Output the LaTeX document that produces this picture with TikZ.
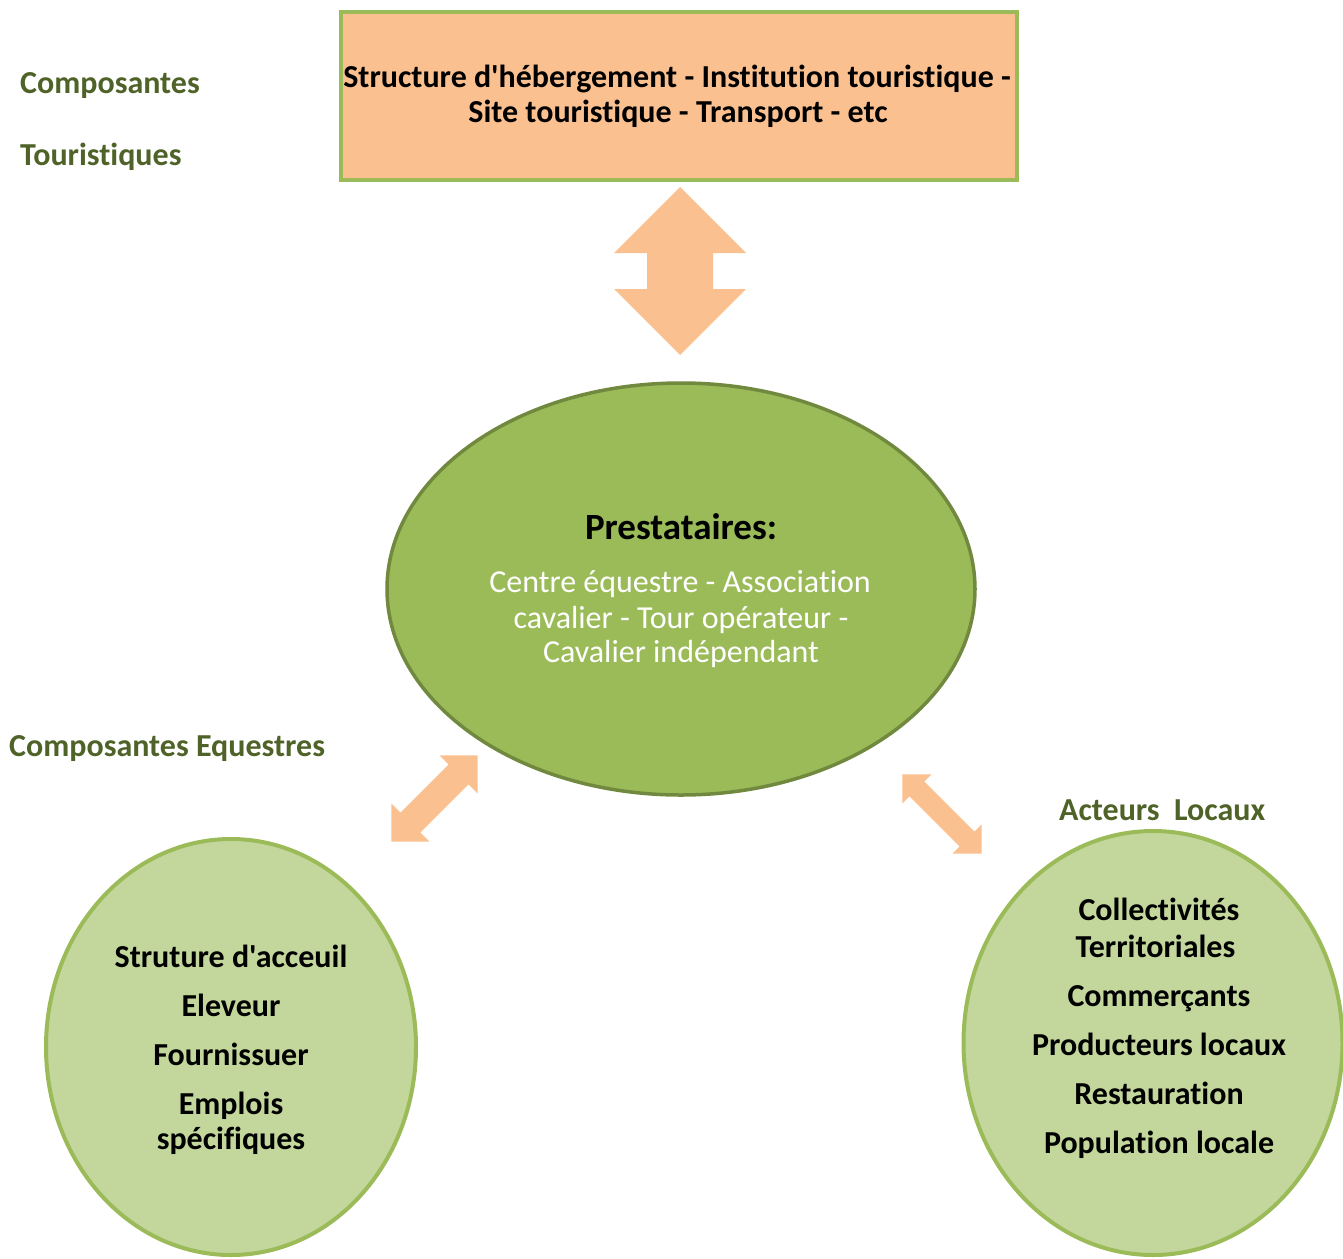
\documentclass[tikz,border=0pt]{standalone}
\usepackage{fontspec}
\setmainfont{Carlito}
\newfontfamily\carl{Carlito}[Ligatures=NoCommon]
\usetikzlibrary{shapes.geometric}
\definecolor{orangefill}{HTML}{FAC090}
\definecolor{greenline}{HTML}{9BBB59}
\definecolor{greendark}{HTML}{71893F}
\definecolor{greenlight}{HTML}{C3D69B}
\definecolor{labelgreen}{HTML}{4F6228}
\newcommand\blockarr[7]{%
  \fill[arrfill, shift={(#1,#2)}, rotate=#3]
    (-#4,0) -- (-#4+#5,#6) -- (-#4+#5,#7) -- (#4-#5,#7) -- (#4-#5,#6) -- (#4,0)
    -- (#4-#5,-#6) -- (#4-#5,-#7) -- (-#4+#5,-#7) -- (-#4+#5,-#6) -- cycle;}
\tikzset{
  arrfill/.style={fill=orangefill},
  bigtxt/.style={font=\carl\fontsize{32}{38}\selectfont\bfseries, text=black, inner sep=0pt, anchor=base},
  titletxt/.style={font=\carl\fontsize{37}{42}\selectfont\bfseries, text=black, inner sep=0pt, anchor=base},
  whitetxt/.style={font=\carl\fontsize{32}{38}\selectfont, text=white, inner sep=0pt, anchor=base},
  lbl/.style={font=\carl\fontsize{32}{38}\selectfont\bfseries, text=labelgreen, inner sep=0pt, anchor=base west},
  topbox/.style={draw=greenline, line width=4pt, fill=orangefill, inner sep=0pt},
  mainell/.style={ellipse, draw=greendark, line width=3.5pt, fill=greenline, inner sep=0pt},
  sideell/.style={ellipse, draw=greenline, line width=4pt, fill=greenlight, inner sep=0pt},
}
\begin{document}
\begin{tikzpicture}[x=1pt, y=-1pt]
\useasboundingbox (0,0) rectangle (1343,1258);
% top box
\node[topbox, minimum width=676pt, minimum height=168pt] (box) at (679,96) {};
\node[bigtxt] (b1) at (677,87.5) {Structure d'hébergement - Institution touristique -};
\node[bigtxt] (b2) at (678,122.5) {Site touristique - Transport - etc};
% labels
\node[lbl] (l1) at (20,93.5) {Composantes};
\node[lbl] (l2) at (20,165.5) {Touristiques};
\node[lbl] (l3) at (9,756.5) {Composantes Equestres};
\node[lbl] (l4) at (1059,820.5) {Acteurs\ \ Locaux};
% central ellipse
\node[mainell, minimum width=588pt, minimum height=412pt] (presta) at (681,589) {};
\node[titletxt] (p0) at (681,539) {Prestataires:};
\node[whitetxt] (p1) at (680,592.5) {Centre équestre - Association};
\node[whitetxt] (p2) at (681,628.5) {cavalier - Tour opérateur -};
\node[whitetxt] (p3) at (681,662.5) {Cavalier indépendant};
% left ellipse
\node[sideell, minimum width=370pt, minimum height=416pt] (equ) at (231,1047) {};
\node[bigtxt] (e1) at (231,967.5) {Struture d'acceuil};
\node[bigtxt] (e2) at (231,1016.5) {Eleveur};
\node[bigtxt] (e3) at (231,1065.5) {Fournissuer};
\node[bigtxt] (e4) at (231,1114.5) {Emplois};
\node[bigtxt] (e5) at (231,1149.5) {spécifiques};
% right ellipse
\node[sideell, minimum width=379pt, minimum height=424pt] (loc) at (1153,1043) {};
\node[bigtxt] (r1) at (1159,920.5) {Collectivités};
\node[bigtxt] (r2) at (1155.5,957.5) {Territoriales};
\node[bigtxt] (r3) at (1159,1006.5) {Commerçants};
\node[bigtxt] (r4) at (1159,1055.5) {Producteurs locaux};
\node[bigtxt] (r5) at (1159,1104.5) {Restauration};
\node[bigtxt] (r6) at (1159,1153.5) {Population locale};
% block arrows
\blockarr{680}{271}{90}{84}{66}{66}{33}
\blockarr{434.5}{798.5}{45}{61}{27}{27}{14}
\blockarr{942}{814}{-45}{56}{20.5}{20.5}{10.5}
\end{tikzpicture}
\end{document}
